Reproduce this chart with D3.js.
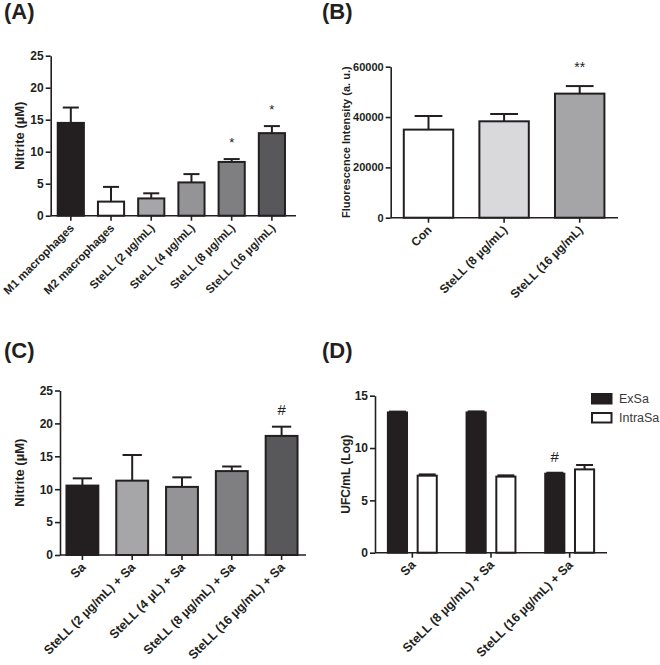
<!DOCTYPE html>
<html>
<head>
<meta charset="utf-8">
<script src="https://cdn.jsdelivr.net/npm/d3@7"></script>
<style>
  html, body { margin: 0; padding: 0; background: #fff; }
  svg { display: block; }
</style>
</head>
<body>
<svg id="chart" width="660" height="665"></svg>
<script>
// ---------------- DATA ----------------
// Panel A
const catsA = ["M1 macrophages", "M2 macrophages", "SteLL (2 µg/mL)", "SteLL (4 µg/mL)", "SteLL (8 µg/mL)", "SteLL (16 µg/mL)"];
const valsA = [14.5, 2.2, 2.7, 5.2, 8.4, 12.9];
const semA  = [2.4, 2.3, 0.8, 1.3, 0.45, 1.1];
const sigA  = ["", "", "", "", "*", "*"];
const ticksA = [0, 5, 10, 15, 20, 25];

// Panel B
const catsB = ["Con", "SteLL (8 µg/mL)", "SteLL (16 µg/mL)"];
const valsB = [35000, 38300, 49300];
const semB  = [5400, 2900, 3000];
const sigB  = ["", "", "**"];
const ticksB = [0, 20000, 40000, 60000];

// Panel C
const catsC = ["Sa", "SteLL (2 µg/mL) + Sa", "SteLL (4 µL) + Sa", "SteLL (8 µg/mL) + Sa", "SteLL (16 µg/mL) + Sa"];
const valsC = [10.55, 11.3, 10.35, 12.75, 18.1];
const semC  = [1.1, 3.9, 1.45, 0.7, 1.4];
const sigC  = ["", "", "", "", "#"];
const ticksC = [0, 5, 10, 15, 20, 25];

// Panel D
const catsD = ["Sa", "SteLL (8 µg/mL) + Sa", "SteLL (16 µg/mL) + Sa"];
const seriesD = ["ExSa", "IntraSa"];
const exSaD = [13.4, 13.4, 7.55];
const exSaSemD = [0.08, 0.1, 0.09];
const intraSaD = [7.36, 7.27, 7.96];
const intraSaSemD = [0.12, 0.12, 0.42];
const sigD = ["", "", "#"];
const ticksD = [0, 5, 10, 15];

// ---------------- STYLE ----------------
const FONT = "'Liberation Sans', Arial, Helvetica, sans-serif";
const INK = "#231f20";
const fillsA = ["#231f20", "#ffffff", "#a6a6a8", "#949496", "#7f7f82", "#58585a"];
const fillsB = ["#ffffff", "#d9d9db", "#a5a5a7"];
const fillsC = ["#231f20", "#a6a6a8", "#949496", "#7f7f82", "#58585a"];
const fillsD = ["#231f20", "#ffffff"];

const svg = d3.select("#chart");

function panel(cfg) {
  const g = svg.append("g");
  const y = d3.scaleLinear().domain([0, cfg.ymax]).range([cfg.bottom, cfg.top]);
  const x = d3.scaleBand().domain(cfg.cats).range([cfg.bandStart, cfg.bandEnd])
    .paddingInner(cfg.padding).paddingOuter(cfg.padding / 2);
  const nSeries = cfg.series.length;
  const xs = d3.scaleBand().domain(d3.range(nSeries)).range([0, x.bandwidth()])
    .paddingInner(nSeries > 1 ? cfg.innerPad : 0).paddingOuter(0);

  // y axis
  const ya = g.append("g").attr("transform", `translate(${cfg.left},0)`)
    .call(d3.axisLeft(y).tickValues(cfg.ticks).tickSize(5).tickSizeOuter(0).tickPadding(2).tickFormat(d3.format("d")));
  ya.select(".domain").attr("stroke", INK).attr("stroke-width", 1.6);
  ya.selectAll(".tick line").attr("stroke", INK).attr("stroke-width", 1.6);
  ya.selectAll(".tick text").attr("fill", INK).attr("font-family", FONT).attr("font-weight", "bold").attr("font-size", cfg.tickFs);

  // x axis
  const xa = g.append("g").attr("transform", `translate(0,${cfg.bottom})`)
    .call(d3.axisBottom(x).tickSize(5).tickSizeOuter(0).tickFormat(""));
  xa.select(".domain").remove();
  xa.selectAll(".tick line").attr("stroke", INK).attr("stroke-width", 1.6);
  g.append("line").attr("x1", cfg.left).attr("x2", cfg.axisEnd).attr("y1", cfg.bottom).attr("y2", cfg.bottom)
    .attr("stroke", INK).attr("stroke-width", 1.6);

  // x labels (rotated)
  g.selectAll("text.xl").data(cfg.cats).join("text")
    .attr("class", "xl")
    .attr("transform", d => `translate(${x(d) + x.bandwidth() / 2 + 4},${cfg.bottom + 13}) rotate(-45)`)
    .attr("text-anchor", "end")
    .attr("font-family", FONT).attr("font-weight", "bold").attr("font-size", cfg.labelFs).attr("fill", INK)
    .text(d => d);

  // bars
  cfg.series.forEach((s, si) => {
    const bw = xs.bandwidth();
    const items = cfg.cats.map((c, i) => ({ c, v: s.vals[i], e: s.sem[i], fill: s.fills[i], sig: s.sig ? s.sig[i] : "" }));
    const bx = d => x(d.c) + xs(si);
    g.selectAll(null).data(items).join("rect")
      .attr("x", d => bx(d) + 1).attr("width", bw - 2)
      .attr("y", d => y(d.v)).attr("height", d => cfg.bottom - y(d.v))
      .attr("fill", d => d.fill).attr("stroke", INK).attr("stroke-width", 2);
    // error bars (upper only)
    const capW = bw * cfg.capFrac;
    g.selectAll(null).data(items).join("line")
      .attr("x1", d => bx(d) + bw / 2).attr("x2", d => bx(d) + bw / 2)
      .attr("y1", d => y(d.v)).attr("y2", d => y(d.v + d.e))
      .attr("stroke", INK).attr("stroke-width", 2);
    g.selectAll(null).data(items).join("line")
      .attr("x1", d => bx(d) + bw / 2 - capW / 2).attr("x2", d => bx(d) + bw / 2 + capW / 2)
      .attr("y1", d => y(d.v + d.e)).attr("y2", d => y(d.v + d.e))
      .attr("stroke", INK).attr("stroke-width", 2);
    // significance marks
    g.selectAll(null).data(items.filter(d => d.sig)).join("text")
      .attr("x", d => bx(d) + bw / 2)
      .attr("y", d => y(d.v + d.e) - cfg.sigGap)
      .attr("text-anchor", "middle")
      .attr("font-family", FONT).attr("font-size", cfg.sigFs).attr("fill", INK)
      .text(d => d.sig);
  });

  // y title
  g.append("text")
    .attr("transform", `translate(${cfg.titleX},${(cfg.top + cfg.bottom) / 2}) rotate(-90)`)
    .attr("text-anchor", "middle")
    .attr("font-family", FONT).attr("font-weight", "bold").attr("font-size", cfg.titleFs).attr("fill", INK)
    .text(cfg.title);

  // panel letter
  g.append("text").attr("x", cfg.letterX).attr("y", cfg.letterY)
    .attr("font-family", FONT).attr("font-weight", "bold").attr("font-size", 22).attr("fill", INK)
    .text(cfg.letter);
  return { g, x, xs, y };
}

panel({
  letter: "(A)", letterX: 4, letterY: 18.5,
  cats: catsA, series: [{ vals: valsA, sem: semA, fills: fillsA, sig: sigA }],
  ymax: 25, ticks: ticksA, left: 50.7, top: 55.7, bottom: 215.7,
  bandStart: 50.7, bandEnd: 292, axisEnd: 296, padding: 0.3,
  tickFs: 12, labelFs: 11.5, title: "Nitrite (µM)", titleFs: 13, titleX: 24,
  capFrac: 0.57, sigGap: 12, sigFs: 13
});

panel({
  letter: "(B)", letterX: 322, letterY: 18.5,
  cats: catsB, series: [{ vals: valsB, sem: semB, fills: fillsB, sig: sigB }],
  ymax: 60000, ticks: ticksB, left: 390.7, top: 66.7, bottom: 217.7,
  bandStart: 390.7, bandEnd: 617.5, axisEnd: 618, padding: 0.32,
  tickFs: 11, labelFs: 12, title: "Fluorescence Intensity (a. u.)", titleFs: 11, titleX: 350,
  capFrac: 0.54, sigGap: 14, sigFs: 14
});

panel({
  letter: "(C)", letterX: 4, letterY: 357.7,
  cats: catsC, series: [{ vals: valsC, sem: semC, fills: fillsC, sig: sigC }],
  ymax: 25, ticks: ticksC, left: 60, top: 390.5, bottom: 555,
  bandStart: 57.5, bandEnd: 306.5, axisEnd: 306, padding: 0.32,
  tickFs: 12, labelFs: 12.5, title: "Nitrite (µM)", titleFs: 13, titleX: 24,
  capFrac: 0.57, sigGap: 12, sigFs: 15
});

panel({
  letter: "(D)", letterX: 322, letterY: 357.7,
  cats: catsD,
  series: [
    { vals: exSaD, sem: exSaSemD, fills: catsD.map(() => fillsD[0]), sig: sigD },
    { vals: intraSaD, sem: intraSaSemD, fills: catsD.map(() => fillsD[1]) }
  ],
  ymax: 15, ticks: ticksD, left: 375, top: 395.7, bottom: 552.7,
  bandStart: 373, bandEnd: 609, axisEnd: 607, padding: 0.353, innerPad: 0.29,
  tickFs: 12, labelFs: 12.5, title: "UFC/mL (Log)", titleFs: 12, titleX: 350,
  capFrac: 0.8, sigGap: 11, sigFs: 15
});

// Legend for D
const leg = svg.append("g").attr("transform", "translate(592,394)");
seriesD.forEach((s, i) => {
  leg.append("rect").attr("x", 0).attr("y", i * 19).attr("width", 19.5).attr("height", 9.5)
    .attr("fill", fillsD[i]).attr("stroke", INK).attr("stroke-width", 2);
  leg.append("text").attr("x", 27).attr("y", i * 19 + 4.75).attr("dy", "0.35em")
    .attr("font-family", FONT).attr("font-size", 12.5).attr("fill", "#3a3a3a")
    .text(s);
});
</script>
</body>
</html>
